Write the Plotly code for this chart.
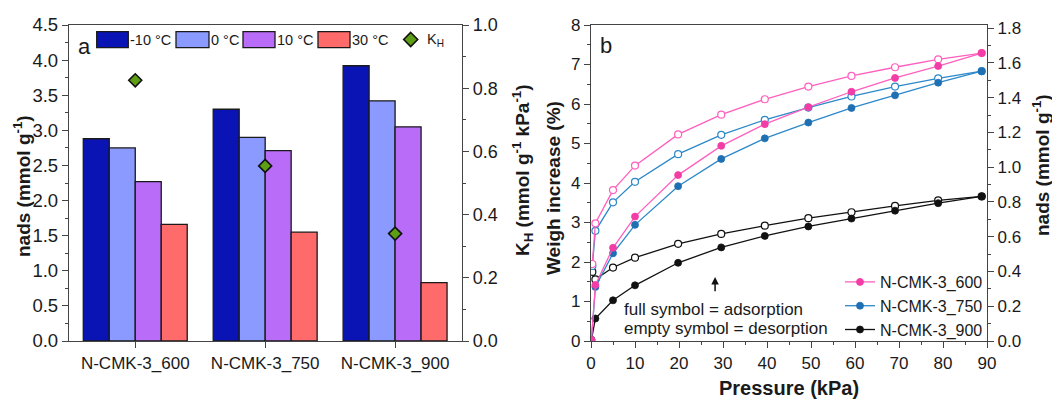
import plotly.graph_objects as go

W, H = 1052, 400

# ---------- Panel a data ----------
samples = ["N-CMK-3_600", "N-CMK-3_750", "N-CMK-3_900"]
temps = ["-10 °C", "0 °C", "10 °C", "30 °C"]
n_m10 = [2.88, 3.30, 3.92]
n_0 = [2.75, 2.90, 3.42]
n_10 = [2.27, 2.71, 3.05]
n_30 = [1.66, 1.55, 0.83]
kh = [0.825, 0.554, 0.34]

# ---------- Panel b data ----------
p_ads = [0.1, 1, 5, 10, 19.8, 29.6, 39.5, 49.4, 59.2, 69.1, 78.9, 88.8]
p_des = [88.8, 78.9, 69.1, 59.2, 49.4, 39.5, 29.6, 19.8, 10, 5, 1, 0.3]
w600_ads = [0.03, 1.42, 2.36, 3.15, 4.20, 4.94, 5.49, 5.92, 6.31, 6.66, 6.96, 7.29]
w600_des = [7.29, 7.13, 6.93, 6.71, 6.44, 6.12, 5.73, 5.23, 4.44, 3.82, 2.98, 1.95]
w750_ads = [0.03, 1.37, 2.22, 2.94, 3.92, 4.61, 5.13, 5.53, 5.90, 6.22, 6.54, 6.83]
w750_des = [6.83, 6.65, 6.44, 6.19, 5.91, 5.60, 5.22, 4.73, 4.03, 3.51, 2.79, 1.90]
w900_ads = [0.03, 0.57, 1.03, 1.41, 1.98, 2.37, 2.66, 2.90, 3.10, 3.30, 3.49, 3.66]
w900_des = [3.66, 3.56, 3.42, 3.26, 3.11, 2.92, 2.71, 2.46, 2.11, 1.86, 1.56, 1.75]

bar_colors = ["#0A14B4", "#8A9AFF", "#B86CF8", "#FF6A6A"]
series_colors = {"N-CMK-3_600": ("#FF5FBF", "#F23CA6"),
                 "N-CMK-3_750": ("#2C88C9", "#1E70B2"),
                 "N-CMK-3_900": ("#111111", "#111111")}

FONT = "Liberation Sans, Arial, sans-serif"
TXT = "#1a1a1a"
AX = "#444444"


def px(x):
    return x / W


def py(y):
    return 1 - y / H


fig = go.Figure()

for name, vals, col in zip(temps, [n_m10, n_0, n_10, n_30], bar_colors):
    fig.add_trace(go.Bar(x=samples, y=vals, name=name, marker_color=col,
                         marker_line_color="#1a1a1a", marker_line_width=1.3,
                         xaxis="x", yaxis="y", showlegend=False))

fig.add_trace(go.Scatter(x=samples, y=kh, mode="markers", name="K<sub>H</sub>",
                         marker=dict(symbol="diamond", size=10, color="#5E9E14",
                                     line=dict(color="#111", width=1.6)),
                         xaxis="x", yaxis="y2", showlegend=False))

series = [("N-CMK-3_900", w900_ads, w900_des, 3),
          ("N-CMK-3_750", w750_ads, w750_des, 2),
          ("N-CMK-3_600", w600_ads, w600_des, 1)]
for name, ads, des, rank in series:
    lc, mc = series_colors[name]
    fig.add_trace(go.Scatter(x=p_des, y=des, mode="lines+markers", name=name,
                             line=dict(color=lc, width=1.3),
                             marker=dict(symbol="circle", size=7, color="white",
                                         line=dict(color=lc, width=1.2)),
                             xaxis="x2", yaxis="y3", showlegend=False))
    fig.add_trace(go.Scatter(x=p_ads, y=ads, mode="lines+markers", name=name,
                             line=dict(color=lc, width=1.3),
                             marker=dict(symbol="circle", size=7, color=mc,
                                         line=dict(color=mc, width=0.8)),
                             xaxis="x2", yaxis="y3", legend="legend2",
                             legendrank=rank))

# empty trace so the right axis of panel b is drawn
fig.add_trace(go.Scatter(x=[], y=[], xaxis="x2", yaxis="y4", showlegend=False))

dom_y = [py(341), py(25)]


def common(size):
    return dict(showline=True, linecolor=AX, linewidth=1.3, ticks="outside",
                ticklen=6, tickwidth=1.3, tickcolor=AX, showgrid=False,
                zeroline=False, automargin=False,
                tickfont=dict(family=FONT, size=size, color=TXT))


minor = lambda d: dict(dtick=d, ticks="outside", ticklen=3, tickcolor=AX)

fig.update_layout(
    width=W, height=H, autosize=False,
    margin=dict(l=0, r=0, t=0, b=0, pad=0, autoexpand=False),
    paper_bgcolor="white", plot_bgcolor="white",
    barmode="group", bargap=0.2, bargroupgap=0,
    font=dict(family=FONT, size=16, color=TXT),
    showlegend=True,
    xaxis=dict(domain=[px(69), px(462)], anchor="y", type="category",
               range=[-0.51, 2.515], mirror=True, **common(17)),
    yaxis=dict(domain=dom_y, anchor="x", range=[0, 4.5], dtick=0.5,
               tickformat=".1f", minor=minor(0.25), **common(18.5)),
    yaxis2=dict(overlaying="y", side="right", anchor="x", range=[0, 1.0],
                dtick=0.2, tickformat=".1f", minor=minor(0.1), **common(18)),
    xaxis2=dict(domain=[px(591), px(987)], anchor="y3", range=[0, 90],
                dtick=10, mirror=True, minor=minor(5), **common(17)),
    yaxis3=dict(domain=dom_y, anchor="x2", range=[0, 8], dtick=1,
                minor=minor(0.5), **common(17)),
    yaxis4=dict(overlaying="y3", side="right", anchor="x2",
                range=[0, 8 / 4.4], dtick=0.2, tickformat=".1f",
                minor=minor(0.1), **common(17)),
    legend2=dict(x=px(988), xanchor="right", y=py(347), yanchor="bottom",
                 bgcolor="rgba(0,0,0,0)", font=dict(family=FONT, size=16, color=TXT),
                 tracegroupgap=0, itemwidth=30),
)

# custom legend for panel a
boxes = [(96.7, 128.3), (176, 209), (243, 275), (318, 350)]
for (x0, x1), col, name in zip(boxes, bar_colors, temps):
    fig.add_shape(type="rect", xref="paper", yref="paper",
                  x0=px(x0), x1=px(x1), y0=py(47.7), y1=py(31.7),
                  fillcolor=col, line=dict(color="#1a1a1a", width=1.3))
    fig.add_annotation(xref="paper", yref="paper", x=px(x1 + 1), y=py(40),
                       xanchor="left", yanchor="middle", text=name,
                       showarrow=False, borderpad=0,
                       font=dict(size=14.5, color=TXT, family=FONT))
cx, cy, r = 410.7, 39.5, 7
fig.add_shape(type="path", xref="paper", yref="paper",
              path=f"M {px(cx)},{py(cy - r)} L {px(cx + r)},{py(cy)} L {px(cx)},{py(cy + r)} L {px(cx - r)},{py(cy)} Z",
              fillcolor="#5E9E14", line=dict(color="#111", width=1.6))
fig.add_annotation(xref="paper", yref="paper", x=px(426), y=py(40),
                   xanchor="left", yanchor="middle", text="K<sub>H</sub>",
                   showarrow=False, borderpad=0,
                   font=dict(size=14.5, color=TXT, family=FONT))


def label(x, y, text, size, angle=0, bold=False):
    fig.add_annotation(xref="paper", yref="paper", x=px(x), y=py(y),
                       xanchor="center", yanchor="middle", textangle=angle,
                       text=f"<b>{text}</b>" if bold else text, showarrow=False,
                       borderpad=0, font=dict(size=size, color=TXT, family=FONT))


# panel labels
label(84, 46, "a", 22)
label(606, 45, "b", 22)

# axis titles
label(22, 186, "nads (mmol g<sup>-1</sup>)", 19, -90, True)
label(522, 170, "K<sub>H</sub> (mmol g<sup>-1</sup> kPa<sup>-1</sup>)", 19, -90, True)
label(553, 188, "Weigh increase (%)", 19, -90, True)
label(1041, 165, "nads (mmol g<sup>-1</sup>)", 19, -90, True)
label(789, 388, "Pressure (kPa)", 20, 0, True)

# notes in panel b
fig.add_annotation(xref="x2", yref="y3", x=7.0, y=0.79, xanchor="left",
                   yanchor="middle", text="full symbol = adsorption",
                   showarrow=False, font=dict(size=17, color=TXT, family=FONT))
fig.add_annotation(xref="x2", yref="y3", x=7.0, y=0.32, xanchor="left",
                   yanchor="middle", text="empty symbol = desorption",
                   showarrow=False, font=dict(size=17, color=TXT, family=FONT))
fig.add_annotation(xref="x2", yref="y3", x=28.2, y=1.62, ax=28.2, ay=1.22,
                   axref="x2", ayref="y3", text="", showarrow=True,
                   arrowhead=2, arrowsize=1, arrowwidth=1.5, arrowcolor="#111")

fig.write_html("out.html", config={"displayModeBar": False},
               post_script="document.body.style.margin='0';document.body.style.overflow='hidden';")
